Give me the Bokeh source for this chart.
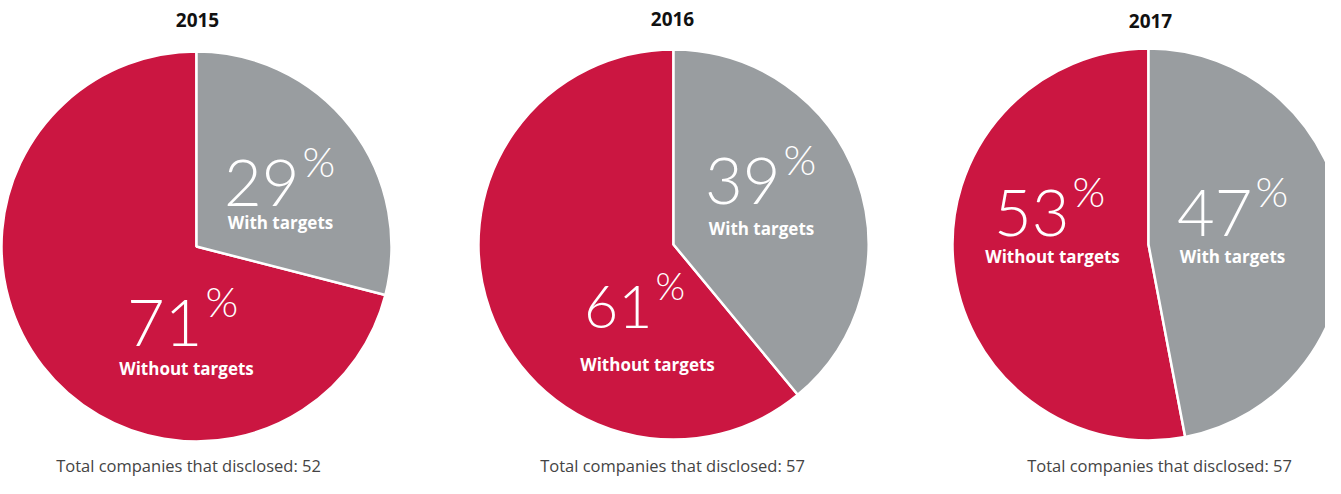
from bokeh.plotting import figure
from bokeh.models import Range1d, ColumnDataSource
from bokeh.core.properties import value
from bokeh.embed import file_html
from bokeh.resources import INLINE

# ---- data ----
years = ["2015", "2016", "2017"]
with_targets = [29, 39, 47]
without_targets = [71, 61, 53]
totals = [52, 57, 57]
label_with = "With targets"
label_without = "Without targets"

# ---- layout (screen pixel coordinates) ----
W, H = 1325, 478
RED = "#CB1641"
GREY = "#999DA0"
centers_x = [204, 681, 1156]
centers_y = [254, 252, 252]
radii = [195, 195, 196]
# number anchor (right end of digits, digit baseline), font px
grey_num = [(307, 215, 65), (788, 213, 65), (1260, 245, 65)]
red_num = [(210, 355, 65), (660, 336, 59), (1077, 245, 65)]
grey_lab = [(288, 236), (769, 242), (1240, 270)]
red_lab = [(194, 382), (655, 378), (1060, 270)]
title_pos = [(205, 35), (680, 34), (1158, 36)]
foot_pos = [(196, 479), (680, 479), (1167, 479)]
K = 0.37  # baseline correction (fraction of font size)


def dy(sy, fs=0):
    return 494 - (sy - K * fs)


p = figure(width=W, height=H, output_backend="svg", toolbar_location=None,
           x_range=Range1d(8, 8 + W), y_range=Range1d(8, 8 + H),
           x_axis_type=None, y_axis_type=None, min_border=0)
p.outline_line_color = None
p.grid.visible = False
p.background_fill_color = "white"

# wedges
g_start, g_end, r_start, r_end = [], [], [], []
for w in with_targets:
    a = 90 - w * 3.6
    g_start.append(a)
    g_end.append(90)
    r_start.append(90)
    r_end.append(a + 360)

src = ColumnDataSource(dict(
    x=centers_x, y=[dy(c) for c in centers_y], r=radii,
    gs=g_start, ge=g_end, rs=r_start, re=r_end))
p.wedge(x="x", y="y", radius="r", start_angle="rs", end_angle="re",
        start_angle_units="deg", end_angle_units="deg", direction="anticlock",
        fill_color=RED, line_color="white", line_width=2.5, source=src)
p.wedge(x="x", y="y", radius="r", start_angle="gs", end_angle="ge",
        start_angle_units="deg", end_angle_units="deg", direction="anticlock",
        fill_color=GREY, line_color="white", line_width=2.5, source=src)

thin = value("Lato Light, Lato")
bold = value("Open Sans")


def number(x, y, fs, val):
    p.text(x=[x], y=[dy(y, fs)], text=[str(val)], text_align="right",
           text_baseline="alphabetic", text_font=thin,
           text_font_size=f"{fs}px", text_color="white")
    pfs = int(fs * 0.65)
    pb = y - fs * 0.72 - 14 + pfs * 0.72
    p.text(x=[x + 3], y=[dy(pb, pfs)], text=["%"],
           text_align="left", text_baseline="alphabetic", text_font=thin,
           text_font_size=f"{pfs}px", text_color="white")


for i in range(3):
    number(*grey_num[i], with_targets[i])
    number(*red_num[i], without_targets[i])

LFS = 17
p.text(x=[q[0] for q in grey_lab], y=[dy(q[1], LFS) for q in grey_lab],
       text=[label_with] * 3, text_align="center", text_baseline="alphabetic",
       text_font=bold, text_font_style="bold", text_font_size=f"{LFS}px",
       text_color="white")
p.text(x=[q[0] for q in red_lab], y=[dy(q[1], LFS) for q in red_lab],
       text=[label_without] * 3, text_align="center", text_baseline="alphabetic",
       text_font=bold, text_font_style="bold", text_font_size=f"{LFS}px",
       text_color="white")

TFS = 19
p.text(x=[q[0] for q in title_pos], y=[dy(q[1], TFS) for q in title_pos],
       text=years, text_align="center", text_baseline="alphabetic",
       text_font=bold, text_font_style="bold", text_font_size=f"{TFS}px",
       text_color="#111111")

FFS = 16.5
p.text(x=[q[0] for q in foot_pos], y=[dy(q[1], FFS) for q in foot_pos],
       text=[f"Total companies that disclosed: {t}" for t in totals],
       text_align="center", text_baseline="alphabetic",
       text_font=bold, text_font_size=f"{FFS}px", text_color="#444444")

open("out.html", "w").write(file_html(p, INLINE))
